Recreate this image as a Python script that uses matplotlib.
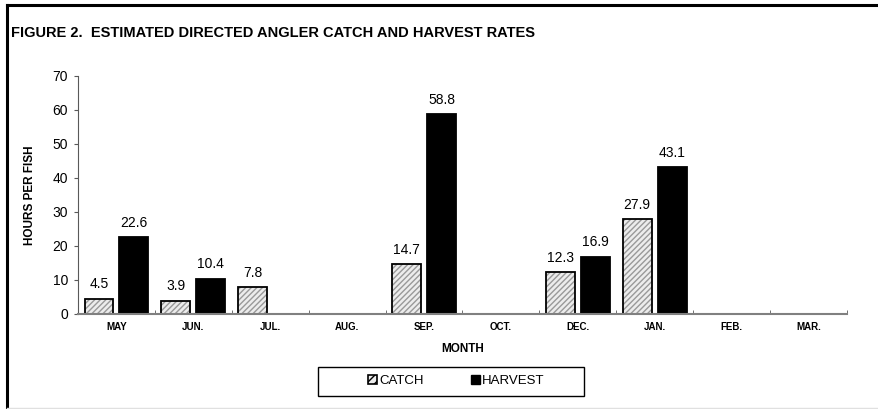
import matplotlib
matplotlib.use("Agg")
import matplotlib.pyplot as plt
import numpy as np
from matplotlib.patches import Patch, Rectangle
from matplotlib.lines import Line2D

plt.rcParams["font.family"] = ["Liberation Sans", "DejaVu Sans"]

months = ["MAY", "JUN.", "JUL.", "AUG.", "SEP.", "OCT.", "DEC.", "JAN.", "FEB.", "MAR."]
catch = [4.5, 3.9, 7.8, np.nan, 14.7, np.nan, 12.3, 27.9, np.nan, np.nan]
harvest = [22.6, 10.4, np.nan, np.nan, 58.8, np.nan, 16.9, 43.1, np.nan, np.nan]

fig = plt.figure(figsize=(8.79, 4.09), dpi=100)
ax = fig.add_axes([0.0887, 0.2323, 0.8749, 0.5819])

x = np.arange(len(months))
w = 0.375
gap = 0.08
xc = x - (w + gap) / 2
xh = x + (w + gap) / 2

# catch: hatched fill, then black outline on top
ax.bar(xc, catch, w, color="#ececec", edgecolor="#999999", hatch="//////", linewidth=0)
ax.bar(xc, catch, w, color="none", edgecolor="black", linewidth=1.3)
ax.bar(xh, harvest, w, color="black", edgecolor="black", linewidth=1.3)

for xs, vals in ((xc, catch), (xh, harvest)):
    for xi, v in zip(xs, vals):
        if not np.isnan(v):
            ax.text(xi, v + 2.2, f"{v:.1f}", ha="center", va="bottom", fontsize=10)

ax.set_xlim(-0.5, len(months) - 0.5)
ax.set_ylim(0, 70)
ax.set_yticks(range(0, 71, 10))
ax.tick_params(axis="y", labelsize=10, length=3, color="#595959", pad=4)

ax.set_xticks(x)
ax.set_xticklabels(months, fontsize=7, fontweight="bold")
ax.tick_params(axis="x", length=0, pad=6)
ax.set_xticks(np.arange(-0.5, len(months)), minor=True)
ax.tick_params(axis="x", which="minor", direction="in", length=3, color="#595959")

for s in ("top", "right"):
    ax.spines[s].set_visible(False)
ax.spines["left"].set_color("#595959")
ax.spines["bottom"].set_color("#808080")
ax.spines["bottom"].set_linewidth(1.5)

ax.set_xlabel("MONTH", fontsize=8.5, fontweight="bold", labelpad=8)
ax.set_ylabel("HOURS PER FISH", fontsize=8.5, fontweight="bold", labelpad=12)

fig.text(0.012, 0.92, "FIGURE 2.  ESTIMATED DIRECTED ANGLER CATCH AND HARVEST RATES",
         fontsize=10.5, fontweight="bold", va="center")

# frame around figure (left and top visible)
fig.add_artist(Line2D([0.008, 0.008], [0.005, 0.988], color="black", lw=2.2))
fig.add_artist(Line2D([0.008, 1.0], [0.988, 0.988], color="black", lw=2.2))
fig.add_artist(Line2D([0.008, 1.0], [0.003, 0.003], color="#e0e0e0", lw=1))

# legend box
fig.add_artist(Rectangle((318 / 879, 1 - 396 / 409), 266 / 879, 29 / 409,
                         facecolor="white", edgecolor="black", linewidth=1.0))
handles = [Patch(facecolor="#ececec", edgecolor="black", hatch="////", linewidth=1.2),
           Patch(facecolor="black", edgecolor="black")]
leg = fig.legend(handles, ["CATCH", "HARVEST"], loc="center", bbox_to_anchor=(0.519, 0.068),
                 ncol=2, fontsize=9.5, frameon=False, handlelength=0.65,
                 handleheight=0.65, handletextpad=0.15, columnspacing=3.6,
                 borderaxespad=0)

fig.savefig("out.png", dpi=100)
